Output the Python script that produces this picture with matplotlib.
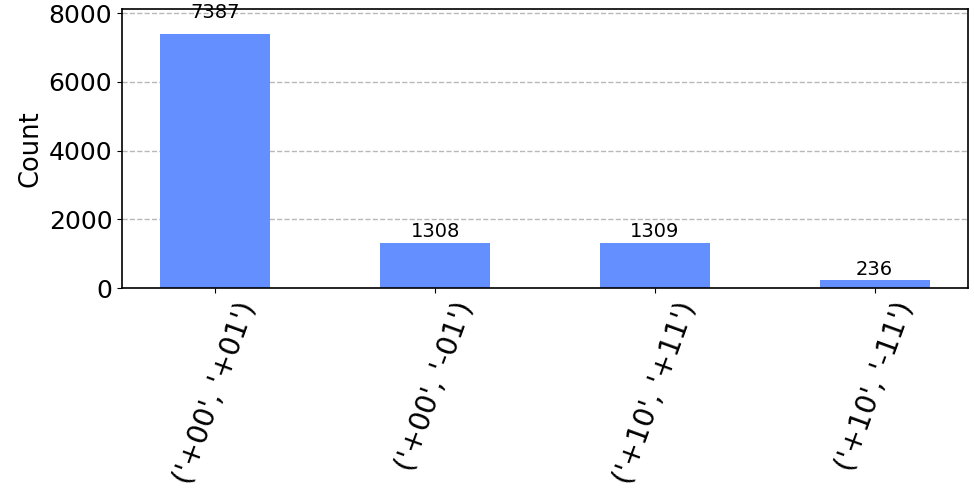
import matplotlib
matplotlib.use('Agg')
import matplotlib.pyplot as plt

labels = ["('+00', '+01')", "('+00', '-01')", "('+10', '+11')", "('+10', '-11')"]
counts = [7387, 1308, 1309, 236]

fig = plt.figure(figsize=(9.74, 4.93), dpi=100)
ax = fig.add_axes([122 / 974, 1 - 288 / 493, (968 - 122) / 974, (288 - 9) / 493])

x = list(range(len(labels)))
bars = ax.bar(x, counts, width=0.5, color='#648fff', zorder=2)

# value labels above each bar
for rect, c in zip(bars, counts):
    ax.text(rect.get_x() + rect.get_width() / 2, 1.05 * c, str(c),
            ha='center', va='bottom', fontsize=14, zorder=3)

ax.set_ylim(0, max(counts) * 1.1)
ax.set_yticks([0, 2000, 4000, 6000, 8000])
ax.set_xticks(x)
ax.set_xticklabels(labels, rotation=70, fontsize=20.5)
ax.tick_params(axis='y', labelsize=18)
ax.set_ylabel('Count', fontsize=18.5)
ax.yaxis.grid(True, linestyle='--', color='#b8b8b8', linewidth=1, zorder=0)
ax.set_axisbelow(True)
for s in ax.spines.values():
    s.set_linewidth(1.2)

fig.savefig('out.png', dpi=100)
